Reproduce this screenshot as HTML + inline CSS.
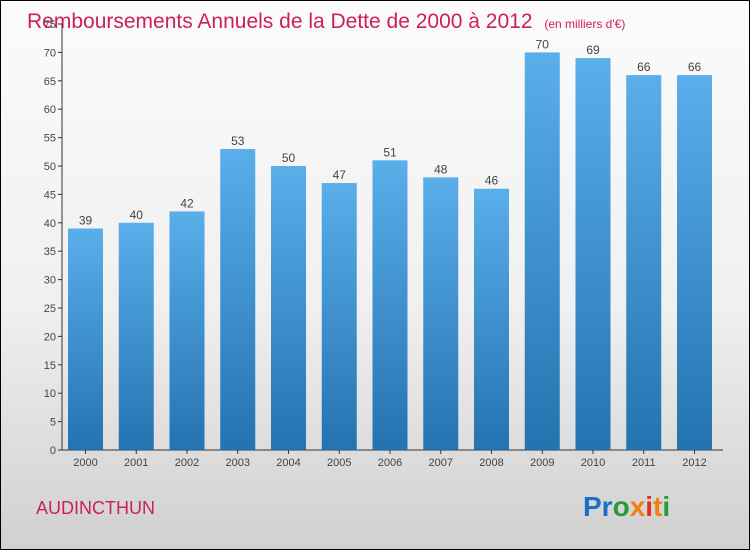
<!DOCTYPE html>
<html><head><meta charset="utf-8"><style>
body{margin:0;width:750px;height:550px;overflow:hidden;font-family:"Liberation Sans",sans-serif}
#wrap{position:relative;width:748px;height:548px;border:1px solid #000;background:linear-gradient(#fbfbfb 0%,#f0f0f0 55%,#d0d0d0 100%)}
</style></head><body>
<div id="wrap">
<svg width="748" height="548" style="position:absolute;left:0;top:0">
<defs><linearGradient id="bg" x1="0" y1="0" x2="0" y2="1"><stop offset="0" stop-color="#5aaeea"/><stop offset="1" stop-color="#2473b0"/></linearGradient></defs>
<text x="26" y="27" font-size="21" fill="#cc2058">Remboursements Annuels de la Dette de 2000 à 2012 <tspan font-size="12" dx="6">(en milliers d'€)</tspan></text>
<g id="axes"></g><g id="bars"></g>
<text x="35" y="513" font-size="18" fill="#cc2058">AUDINCTHUN</text>
<text x="582" y="515" font-size="28" font-weight="bold"><tspan fill="#1a6fc8">Pr</tspan><tspan fill="#2a9a3a">o</tspan><tspan fill="#f08010">x</tspan><tspan fill="#e03020">i</tspan><tspan fill="#f08010">t</tspan><tspan fill="#2a9a3a">i</tspan></text>
</svg>
</div>
<script>
const years=["2000","2001","2002","2003","2004","2005","2006","2007","2008","2009","2010","2011","2012"];
const values=[39,40,42,53,50,47,51,48,46,70,69,66,66];
const ticks=[0,5,10,15,20,25,30,35,40,45,50,55,60,65,70,75];
const NS="http://www.w3.org/2000/svg";
const y0=449,yTop=23,yMax=75,x0=61,step=50.75,bw=35;
const yS=v=>y0-(y0-yTop)*v/yMax;
const xS=i=>x0+6+i*step;
function mk(t,a,p){const e=document.createElementNS(NS,t);for(const k in a)e.setAttribute(k,a[k]);p.appendChild(e);return e;}
const ax=document.getElementById('axes'),bs=document.getElementById('bars');
let l=mk('line',{x1:x0,y1:yTop,x2:x0,y2:y0,stroke:'#333'},ax);


l=mk('line',{x1:x0,y1:y0,x2:722,y2:y0,stroke:'#333'},ax);


ticks.forEach(v=>{const y=yS(v);
 mk('line',{x1:x0-4,y1:y,x2:x0,y2:y,stroke:'#333'},ax);
 const t=mk('text',{x:x0-6,y:y+4,'text-anchor':'end','font-size':11,fill:'#444'},ax);t.textContent=v;
 
 });
years.forEach((yr,i)=>{const x=xS(i),v=values[i],y=yS(v);
 const r=mk('rect',{x:x,y:y,width:bw,height:y0-y,fill:'url(#bg)'},bs);
 
 
 mk('line',{x1:x+bw/2,y1:y0,x2:x+bw/2,y2:y0+4,stroke:'#333'},ax);
 const t=mk('text',{x:x+bw/2,y:y0+16,'text-anchor':'middle','font-size':11,fill:'#444'},ax);t.textContent=yr;
 
 
 const vl=mk('text',{x:x+bw/2,y:y-4,'text-anchor':'middle','font-size':12,fill:'#444'},bs);vl.textContent=v;
 
 });
</script>
</body></html>
